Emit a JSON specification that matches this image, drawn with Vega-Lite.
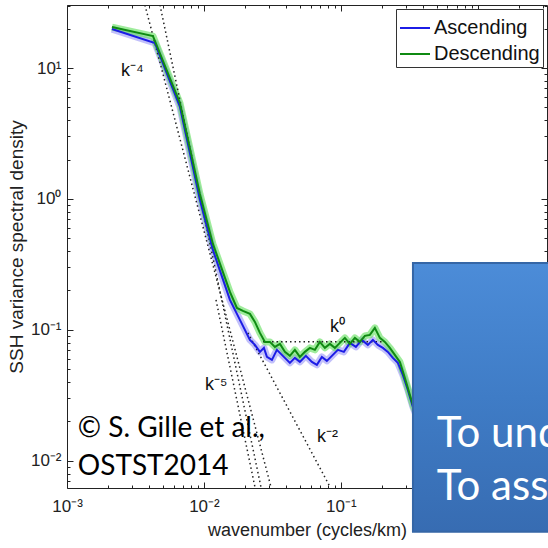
{
  "$schema": "https://vega.github.io/schema/vega-lite/v6.json",
  "width": 480,
  "height": 483,
  "autosize": {"type": "none"},
  "padding": {"left": 67, "top": 5, "right": 1, "bottom": 60},
  "background": "white",
  "config": {
    "view": {"stroke": null},
    "font": "Liberation Sans",
    "axis": {"labelFont": "Liberation Sans", "titleFont": "Liberation Sans", "domainColor": "#222", "tickColor": "#222", "labelColor": "#222", "titleColor": "#222", "titleFontWeight": "normal", "grid": false, "labelFlush": false},
    "legend": {"orient": "top-right", "offset": 4, "strokeColor": "#333", "fillColor": "white", "padding": 3, "symbolType": "stroke", "symbolSize": 900, "symbolStrokeWidth": 2, "labelFontSize": 20, "labelFont": "Liberation Sans", "labelColor": "#111", "rowPadding": 0, "labelOffset": 3, "labelLimit": 200}
  },
  "datasets": {
    "spectra": [
      {"series": "Ascending", "k": 0.00213, "psd": 19.85},
      {"series": "Ascending", "k": 0.004387, "psd": 15.52},
      {"series": "Ascending", "k": 0.006681, "psd": 5.04},
      {"series": "Ascending", "k": 0.00935, "psd": 0.9826},
      {"series": "Ascending", "k": 0.01163, "psd": 0.4081},
      {"series": "Ascending", "k": 0.015478, "psd": 0.1694},
      {"series": "Ascending", "k": 0.018311, "psd": 0.1192},
      {"series": "Ascending", "k": 0.021665, "psd": 0.08389},
      {"series": "Ascending", "k": 0.023566, "psd": 0.07682},
      {"series": "Ascending", "k": 0.025631, "psd": 0.06794},
      {"series": "Ascending", "k": 0.027416, "psd": 0.07288},
      {"series": "Ascending", "k": 0.028833, "psd": 0.06221},
      {"series": "Ascending", "k": 0.031362, "psd": 0.05902},
      {"series": "Ascending", "k": 0.034107, "psd": 0.07037},
      {"series": "Ascending", "k": 0.037721, "psd": 0.06331},
      {"series": "Ascending", "k": 0.04243, "psd": 0.05599},
      {"series": "Ascending", "k": 0.046144, "psd": 0.06113},
      {"series": "Ascending", "k": 0.05019, "psd": 0.05698},
      {"series": "Ascending", "k": 0.055517, "psd": 0.06331},
      {"series": "Ascending", "k": 0.061406, "psd": 0.05698},
      {"series": "Ascending", "k": 0.066787, "psd": 0.05406},
      {"series": "Ascending", "k": 0.07264, "psd": 0.06221},
      {"series": "Ascending", "k": 0.079006, "psd": 0.05799},
      {"series": "Ascending", "k": 0.087387, "psd": 0.06444},
      {"series": "Ascending", "k": 0.095084, "psd": 0.07037},
      {"series": "Ascending", "k": 0.10517, "psd": 0.06794},
      {"series": "Ascending", "k": 0.11632, "psd": 0.07958},
      {"series": "Ascending", "k": 0.12867, "psd": 0.07418},
      {"series": "Ascending", "k": 0.14231, "psd": 0.08389},
      {"series": "Ascending", "k": 0.1574, "psd": 0.07682},
      {"series": "Ascending", "k": 0.17121, "psd": 0.08389},
      {"series": "Ascending", "k": 0.18621, "psd": 0.07682},
      {"series": "Ascending", "k": 0.20253, "psd": 0.07288},
      {"series": "Ascending", "k": 0.22029, "psd": 0.06794},
      {"series": "Ascending", "k": 0.2396, "psd": 0.06113},
      {"series": "Ascending", "k": 0.26063, "psd": 0.05599},
      {"series": "Ascending", "k": 0.28347, "psd": 0.04534},
      {"series": "Ascending", "k": 0.30834, "psd": 0.03483},
      {"series": "Ascending", "k": 0.33532, "psd": 0.02584},
      {"series": "Ascending", "k": 0.37729, "psd": 0.01883},
      {"series": "Ascending", "k": 0.44628, "psd": 0.01257},
      {"series": "Ascending", "k": 0.52795, "psd": 0.00854},
      {"series": "Descending", "k": 0.00213, "psd": 20.56},
      {"series": "Descending", "k": 0.004243, "psd": 17.55},
      {"series": "Descending", "k": 0.006681, "psd": 5.404},
      {"series": "Descending", "k": 0.00935, "psd": 1.092},
      {"series": "Descending", "k": 0.01163, "psd": 0.4535},
      {"series": "Descending", "k": 0.015478, "psd": 0.195},
      {"series": "Descending", "k": 0.017413, "psd": 0.1472},
      {"series": "Descending", "k": 0.019258, "psd": 0.1396},
      {"series": "Descending", "k": 0.021665, "psd": 0.1325},
      {"series": "Descending", "k": 0.023566, "psd": 0.1151},
      {"series": "Descending", "k": 0.025631, "psd": 0.09486},
      {"series": "Descending", "k": 0.027881, "psd": 0.08099},
      {"series": "Descending", "k": 0.030325, "psd": 0.08099},
      {"series": "Descending", "k": 0.032979, "psd": 0.07418},
      {"series": "Descending", "k": 0.035866, "psd": 0.07818},
      {"series": "Descending", "k": 0.03901, "psd": 0.06794},
      {"series": "Descending", "k": 0.04243, "psd": 0.06331},
      {"series": "Descending", "k": 0.046144, "psd": 0.07037},
      {"series": "Descending", "k": 0.05019, "psd": 0.06221},
      {"series": "Descending", "k": 0.05459, "psd": 0.06794},
      {"series": "Descending", "k": 0.059376, "psd": 0.07288},
      {"series": "Descending", "k": 0.064579, "psd": 0.07037},
      {"series": "Descending", "k": 0.070238, "psd": 0.08099},
      {"series": "Descending", "k": 0.076394, "psd": 0.07288},
      {"series": "Descending", "k": 0.08309, "psd": 0.07818},
      {"series": "Descending", "k": 0.090372, "psd": 0.07288},
      {"series": "Descending", "k": 0.098335, "psd": 0.07958},
      {"series": "Descending", "k": 0.10695, "psd": 0.0869},
      {"series": "Descending", "k": 0.11632, "psd": 0.07818},
      {"series": "Descending", "k": 0.12653, "psd": 0.0869},
      {"series": "Descending", "k": 0.13761, "psd": 0.08099},
      {"series": "Descending", "k": 0.14966, "psd": 0.09},
      {"series": "Descending", "k": 0.16278, "psd": 0.09158},
      {"series": "Descending", "k": 0.17705, "psd": 0.1036},
      {"series": "Descending", "k": 0.1926, "psd": 0.0869},
      {"series": "Descending", "k": 0.20946, "psd": 0.08099},
      {"series": "Descending", "k": 0.22782, "psd": 0.07288},
      {"series": "Descending", "k": 0.2478, "psd": 0.06444},
      {"series": "Descending", "k": 0.26953, "psd": 0.05698},
      {"series": "Descending", "k": 0.29318, "psd": 0.04301},
      {"series": "Descending", "k": 0.31894, "psd": 0.0319},
      {"series": "Descending", "k": 0.33532, "psd": 0.02676},
      {"series": "Descending", "k": 0.37729, "psd": 0.01984},
      {"series": "Descending", "k": 0.44628, "psd": 0.01325},
      {"series": "Descending", "k": 0.52795, "psd": 0.00884}
    ],
    "refs": [
      {"line": "k4", "k": 0.003707, "psd": 30.3},
      {"line": "k4", "k": 0.03083, "psd": 0.00634},
      {"line": "k5a", "k": 0.004775, "psd": 30.3},
      {"line": "k5a", "k": 0.02606, "psd": 0.00634},
      {"line": "k5b", "k": 0.01225, "psd": 0.1694},
      {"line": "k5b", "k": 0.02355, "psd": 0.00634},
      {"line": "k2", "k": 0.02094, "psd": 0.0948},
      {"line": "k2", "k": 0.0832, "psd": 0.00634},
      {"line": "k0", "k": 0.027, "psd": 0.081},
      {"line": "k0", "k": 0.2, "psd": 0.081}
    ],
    "reflabels": [
      {"k": 0.002479, "psd": 8.69, "text": "k⁻⁴"},
      {"k": 0.01017, "psd": 0.0348, "text": "k⁻⁵"},
      {"k": 0.0832, "psd": 0.0966, "text": "k⁰"},
      {"k": 0.0668, "psd": 0.01396, "text": "k⁻²"}
    ],
    "credit": [
      {"k": 0.0012, "psd": 0.01524, "text": "© S. Gille et al.,"},
      {"k": 0.0012, "psd": 0.00782, "text": "OSTST2014"}
    ],
    "box": [
      {"k1": 0.336, "k2": 10, "p1": 0.00287, "p2": 0.324}
    ],
    "boxtext": [
      {"k": 0.502, "psd": 0.01279, "text": "To und"},
      {"k": 0.502, "psd": 0.005035, "text": "To ass"}
    ]
  },
  "layer": [
    {
      "data": {"name": "spectra"},
      "transform": [{"filter": "datum.series === 'Ascending'"}],
      "mark": {"type": "line", "color": "#8f8cf5", "strokeWidth": 7, "opacity": 0.55, "clip": true, "strokeJoin": "round"},
      "encoding": {
        "x": {"field": "k", "type": "quantitative", "scale": {"type": "log", "domain": [0.001, 3.2], "nice": false},
          "axis": {"orient": "bottom", "title": null, "values": [0.002,0.003,0.004,0.005,0.006,0.007,0.008,0.009,0.02,0.03,0.04,0.05,0.06,0.07,0.08,0.09,0.2,0.3,0.4,0.5,0.6,0.7,0.8,0.9,2,3], "labels": false, "domain": false, "tickSize": -3}},
        "y": {"field": "psd", "type": "quantitative", "scale": {"type": "log", "domain": [0.0062, 30.3], "nice": false},
          "axis": {"orient": "left", "title": null, "values": [0.007,0.008,0.009,0.02,0.03,0.04,0.05,0.06,0.07,0.08,0.09,0.2,0.3,0.4,0.5,0.6,0.7,0.8,0.9,2,3,4,5,6,7,8,9,20,30], "labels": false, "domain": false, "tickSize": -3}},
        "order": {"field": "k", "type": "quantitative"}
      }
    },
    {
      "data": {"name": "spectra"},
      "transform": [{"filter": "datum.series === 'Descending'"}],
      "mark": {"type": "line", "color": "#5fe05a", "strokeWidth": 7, "opacity": 0.6, "clip": true, "strokeJoin": "round"},
      "encoding": {
        "x": {"field": "k", "type": "quantitative", "scale": {"type": "log", "domain": [0.001, 3.2], "nice": false},
          "axis": {"orient": "top", "title": null, "values": [0.002,0.003,0.004,0.005,0.006,0.007,0.008,0.009,0.02,0.03,0.04,0.05,0.06,0.07,0.08,0.09,0.2,0.3,0.4,0.5,0.6,0.7,0.8,0.9,2,3], "labels": false, "domain": false, "tickSize": -3}},
        "y": {"field": "psd", "type": "quantitative", "scale": {"type": "log", "domain": [0.0062, 30.3], "nice": false},
          "axis": {"orient": "right", "title": null, "values": [0.007,0.008,0.009,0.02,0.03,0.04,0.05,0.06,0.07,0.08,0.09,0.2,0.3,0.4,0.5,0.6,0.7,0.8,0.9,2,3,4,5,6,7,8,9,20,30], "labels": false, "domain": false, "tickSize": -3}},
        "order": {"field": "k", "type": "quantitative"}
      }
    },
    {
      "data": {"name": "refs"},
      "mark": {"type": "line", "color": "#222", "strokeWidth": 1.5, "strokeDash": [1.5, 3], "clip": true},
      "encoding": {
        "x": {"field": "k", "type": "quantitative", "scale": {"type": "log", "domain": [0.001, 3.2], "nice": false},
          "axis": {"orient": "top", "title": null, "values": [0.001, 0.01, 0.1, 1], "labels": false, "domain": true, "tickSize": -6}},
        "y": {"field": "psd", "type": "quantitative", "scale": {"type": "log", "domain": [0.0062, 30.3], "nice": false},
          "axis": {"orient": "right", "title": null, "values": [0.01, 0.1, 1, 10], "labels": false, "domain": true, "tickSize": -6}},
        "detail": {"field": "line", "type": "nominal"}
      }
    },
    {
      "data": {"name": "spectra"},
      "mark": {"type": "line", "strokeWidth": 2, "clip": true},
      "encoding": {
        "x": {"field": "k", "type": "quantitative", "scale": {"type": "log", "domain": [0.001, 3.2], "nice": false},
          "axis": {"orient": "bottom", "title": "wavenumber (cycles/km)", "titleFontSize": 18, "titlePadding": 7, "values": [0.001, 0.01, 0.1, 1], "tickSize": -6, "labelPadding": 16, "labelFontSize": 17, "labelExpr": "datum.value == 0.001 ? '10⁻³' : datum.value == 0.01 ? '10⁻²' : datum.value == 0.1 ? '10⁻¹' : '10⁰'"}},
        "y": {"field": "psd", "type": "quantitative", "scale": {"type": "log", "domain": [0.0062, 30.3], "nice": false},
          "axis": {"orient": "left", "title": "SSH variance spectral density", "titleFontSize": 19, "titlePadding": 4, "values": [0.01, 0.1, 1, 10], "tickSize": -6, "labelPadding": 12, "labelFontSize": 17, "labelExpr": "datum.value == 0.01 ? '10⁻²' : datum.value == 0.1 ? '10⁻¹' : datum.value == 1 ? '10⁰' : '10¹'"}},
        "color": {"field": "series", "type": "nominal", "title": null, "scale": {"domain": ["Ascending", "Descending"], "range": ["#1c1ce6", "#0f8a12"]}},
        "order": {"field": "k", "type": "quantitative"}
      }
    },
    {
      "data": {"name": "reflabels"},
      "mark": {"type": "text", "align": "left", "baseline": "alphabetic", "fontSize": 18, "font": "Liberation Sans", "color": "#111"},
      "encoding": {
        "x": {"field": "k", "type": "quantitative", "scale": {"type": "log", "domain": [0.001, 3.2], "nice": false}, "axis": null},
        "y": {"field": "psd", "type": "quantitative", "scale": {"type": "log", "domain": [0.0062, 30.3], "nice": false}, "axis": null},
        "text": {"field": "text"}
      }
    },
    {
      "data": {"name": "credit"},
      "mark": {"type": "text", "align": "left", "baseline": "alphabetic", "fontSize": 28, "font": "Lato", "color": "#000"},
      "encoding": {
        "x": {"field": "k", "type": "quantitative", "scale": {"type": "log", "domain": [0.001, 3.2], "nice": false}, "axis": null},
        "y": {"field": "psd", "type": "quantitative", "scale": {"type": "log", "domain": [0.0062, 30.3], "nice": false}, "axis": null},
        "text": {"field": "text"}
      }
    },
    {
      "data": {"name": "box"},
      "mark": {"type": "rect", "clip": false, "stroke": "#3566a6", "strokeWidth": 2,
        "color": {"gradient": "linear", "x1": 0, "y1": 0, "x2": 0, "y2": 1, "stops": [{"offset": 0, "color": "#4c8cd8"}, {"offset": 0.5, "color": "#3f7cc6"}, {"offset": 1, "color": "#376cb2"}]}},
      "encoding": {
        "x": {"field": "k1", "type": "quantitative", "scale": {"type": "log", "domain": [0.001, 3.2], "nice": false}, "axis": null},
        "x2": {"field": "k2"},
        "y": {"field": "p1", "type": "quantitative", "scale": {"type": "log", "domain": [0.0062, 30.3], "nice": false}, "axis": null},
        "y2": {"field": "p2"}
      }
    },
    {
      "data": {"name": "boxtext"},
      "mark": {"type": "text", "align": "left", "baseline": "alphabetic", "fontSize": 42, "font": "Lato", "color": "white", "clip": false},
      "encoding": {
        "x": {"field": "k", "type": "quantitative", "scale": {"type": "log", "domain": [0.001, 3.2], "nice": false}, "axis": null},
        "y": {"field": "psd", "type": "quantitative", "scale": {"type": "log", "domain": [0.0062, 30.3], "nice": false}, "axis": null},
        "text": {"field": "text"}
      }
    }
  ],
  "resolve": {"axis": {"x": "independent", "y": "independent"}}
}
